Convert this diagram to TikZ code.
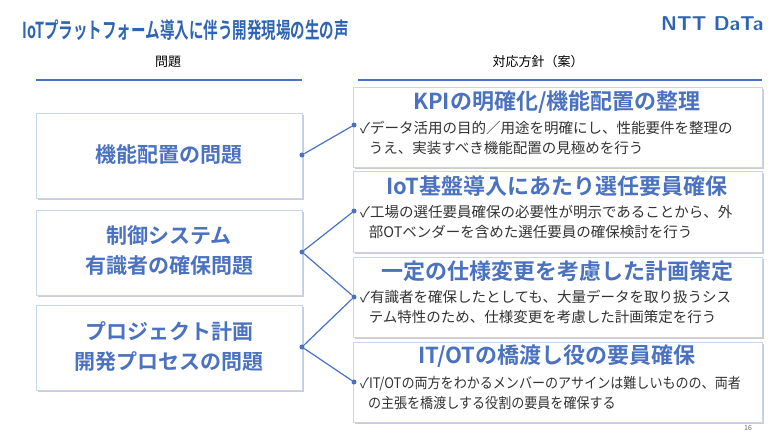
\documentclass[tikz,border=0pt]{standalone}
\usepackage{fontspec}
\setmainfont{Noto Sans CJK JP}[BoldFont={Noto Sans CJK JP Bold}]
\usetikzlibrary{shadows}
\definecolor{ntblue}{HTML}{2E64B4}
\definecolor{boxblue}{HTML}{4A72C0}
\definecolor{txtgray}{HTML}{333333}
\begin{document}
\begin{tikzpicture}[x=1pt,y=-1pt]
            \tikzset{
            issue box/.style={draw=boxblue!30,fill=white,line width=1pt,drop shadow={shadow xshift=1.5pt,shadow yshift=-1.5pt,fill=black!40}},
            plan box/.style={draw=boxblue!30,fill=white,line width=1pt,drop shadow={shadow xshift=1.5pt,shadow yshift=-1.5pt,fill=black!40}},
            issue text/.style={font=\bfseries\fontsize{21}{30}\selectfont,text=boxblue,align=center},
            plan title/.style={font=\bfseries\fontsize{22}{24}\selectfont,text=boxblue,anchor=center},
            plan text/.style={font=\fontsize{14.5}{20}\selectfont,text=txtgray,align=left,anchor=north west,inner sep=0pt},
            dot/.style={circle,fill=boxblue,inner sep=0pt,minimum size=5pt},
            link/.style={draw=boxblue,line width=1.2pt}
            }
            \useasboundingbox (0,0) rectangle (780,439);
            % title and logo
            \node[anchor=west,font=\bfseries\fontsize{22}{24}\selectfont,text=ntblue,xscale=0.66,transform shape] (title) at (20,30) {IoTプラットフォーム導入に伴う開発現場の生の声};
            \node[anchor=east,font=\sffamily\bfseries\fontsize{20}{22}\selectfont,text=ntblue] (logo) at (767,24) {NTT DaTa};
            % headers
            \node[font=\fontsize{13}{15}\selectfont] (hleft) at (168,62) {問題};
            \node[font=\fontsize{13}{15}\selectfont] (hright) at (538,62) {対応方針（案）};
            \draw[boxblue,line width=1.8pt] (36,80) -- (302,80);
            \draw[boxblue,line width=1.8pt] (358,80) -- (762,80);
            % issue boxes
            \draw[issue box] (36,113) rectangle (302,198);
            \draw[issue box] (36,210) rectangle (302,295);
            \draw[issue box] (36,305) rectangle (302,390);
            \node[issue text] (i1) at (169,155) {機能配置の問題};
            \node[issue text] (i2) at (169,251) {制御システム\\有識者の確保問題};
            \node[issue text] (i3) at (169,347) {プロジェクト計画\\開発プロセスの問題};
            % plan boxes
            \draw[plan box] (353,87) rectangle (762,167);
            \draw[plan box] (353,171) rectangle (762,252);
            \draw[plan box] (353,257) rectangle (762,337);
            \draw[plan box] (353,342) rectangle (762,422);
            \node[plan title] (p1) at (557,102) {KPIの明確化/機能配置の整理};
            \node[plan title] (p2) at (557,186) {IoT基盤導入にあたり選任要員確保};
            \node[plan title] (p3) at (557,271) {一定の仕様変更を考慮した計画策定};
            \node[plan title] (p4) at (557,356) {IT/OTの橋渡し役の要員確保};
            \node[plan text] (t1) at (360,121) {✓データ活用の目的／用途を明確にし、性能要件を整理の\\\hspace*{0.6em}うえ、実装すべき機能配置の見極めを行う};
            \node[plan text] (t2) at (360,205) {✓工場の選任要員確保の必要性が明示であることから、外\\\hspace*{0.6em}部OTベンダーを含めた選任要員の確保検討を行う};
            \node[plan text] (t3) at (360,290) {✓有識者を確保したとしても、大量データを取り扱うシス\\\hspace*{0.6em}テム特性のため、仕様変更を考慮した計画策定を行う};
            \node[plan text,xscale=0.9,transform shape] (t4) at (360,376) {✓IT/OTの両方をわかるメンバーのアサインは難しいものの、両者\\\hspace*{0.6em}の主張を橋渡しする役割の要員を確保する};
            % connectors
            \node[dot] (a1) at (302,155) {};
            \node[dot] (a2) at (302,252) {};
            \node[dot] (a3) at (302,347) {};
            \node[dot] (b1) at (354,125) {};
            \node[dot] (b2) at (354,211) {};
            \node[dot] (b3) at (354,297) {};
            \node[dot] (b4) at (354,382) {};
            \path[link]
            (a1) -- (b1)
            (a2) -- (b2)
            (a2) -- (b3)
            (a3) -- (b3)
            (a3) -- (b4)
            ;
            \node[font=\fontsize{7}{8}\selectfont,text=black!60] (page) at (748,428) {16};
        \end{tikzpicture}
\end{document}
